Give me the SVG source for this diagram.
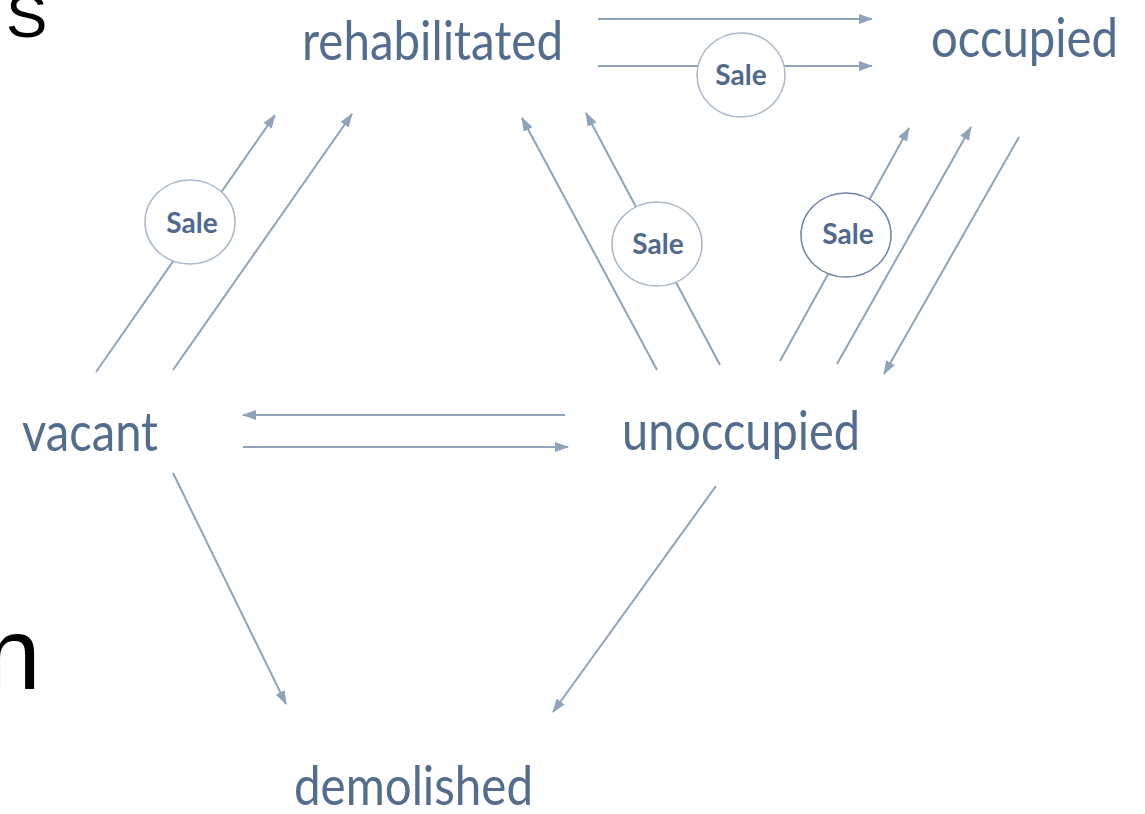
<svg xmlns="http://www.w3.org/2000/svg" width="1145" height="814" viewBox="0 0 1145 814">
<defs>
<marker id="ah" markerWidth="14" markerHeight="10" refX="13" refY="5" orient="auto" markerUnits="userSpaceOnUse">
<path d="M0,0 L14,5 L0,10 Z" fill="#8fa3bb"/>
</marker>
</defs>
<style>
.lbl{font-family:Lato,"Open Sans","Liberation Sans",sans-serif;font-size:54px;fill:#536d8f;}
.sale{font-family:Lato,"Open Sans","Liberation Sans",sans-serif;font-size:28px;font-weight:bold;fill:#4f6a8c;text-anchor:middle;}
.c{fill:#fff;stroke:#aab9cc;stroke-width:1.5;}
.cd{fill:#fff;stroke:#6f86a4;stroke-width:1.5;}
.ln{stroke:#8fa3bb;stroke-width:2;fill:none;}
.ar{marker-end:url(#ah);}
.blk{font-family:"Liberation Sans",Arial,sans-serif;fill:#000;}
</style>
<rect width="1145" height="814" fill="#fff"/>
<text class="blk" x="6" y="37" font-size="62">S</text>
<text class="blk" x="-16" y="689" font-size="102">n</text>
<g id="connectors">
<line class="ln ar" x1="598" y1="19" x2="872" y2="19"/>
<line class="ln ar" x1="598" y1="66" x2="872" y2="66"/>
<line class="ln ar" x1="96" y1="372" x2="275" y2="115"/>
<line class="ln ar" x1="173" y1="370" x2="352" y2="114"/>
<line class="ln ar" x1="657" y1="370" x2="522" y2="118"/>
<line class="ln ar" x1="720" y1="365" x2="586" y2="113"/>
<line class="ln ar" x1="780" y1="361" x2="909" y2="128"/>
<line class="ln ar" x1="837" y1="364" x2="971" y2="127"/>
<line class="ln ar" x1="1019" y1="137" x2="884" y2="374"/>
<line class="ln ar" x1="565" y1="415" x2="243" y2="415"/>
<line class="ln ar" x1="243" y1="447" x2="568" y2="447"/>
<line class="ln ar" x1="173" y1="473" x2="286" y2="704"/>
<line class="ln ar" x1="716" y1="486" x2="553" y2="712"/>
</g>
<g id="sale1"><ellipse class="c" cx="741" cy="75" rx="44" ry="42"/><text class="sale" x="741" y="85">Sale</text></g>
<g id="sale2"><ellipse class="c" cx="190" cy="222" rx="45" ry="42"/><text class="sale" x="192" y="233">Sale</text></g>
<g id="sale3"><ellipse class="c" cx="657" cy="244" rx="45" ry="42"/><text class="sale" x="658" y="254">Sale</text></g>
<g id="sale4"><ellipse class="cd" cx="846" cy="235" rx="45" ry="42"/><text class="sale" x="848" y="244">Sale</text></g>
<g id="rehabilitated"><text class="lbl" x="302" y="60" textLength="261" lengthAdjust="spacingAndGlyphs">rehabilitated</text></g>
<g id="occupied"><text class="lbl" x="931" y="57" textLength="187" lengthAdjust="spacingAndGlyphs">occupied</text></g>
<g id="vacant"><text class="lbl" x="22" y="451" textLength="136" lengthAdjust="spacingAndGlyphs">vacant</text></g>
<g id="unoccupied"><text class="lbl" x="622" y="450" textLength="238" lengthAdjust="spacingAndGlyphs">unoccupied</text></g>
<g id="demolished"><text class="lbl" x="294" y="805" textLength="239" lengthAdjust="spacingAndGlyphs">demolished</text></g>
</svg>
